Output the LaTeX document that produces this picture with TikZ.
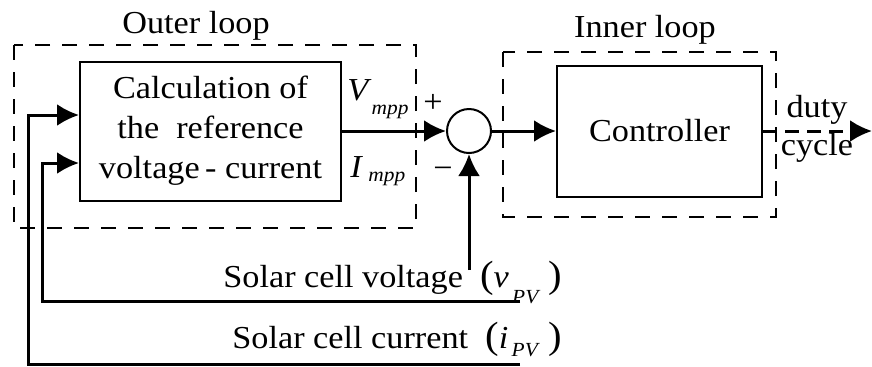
\documentclass[tikz,border=0pt]{standalone}
\usepackage{fontspec}
\setmainfont{Liberation Serif}[FakeStretch=1.07]
\usepackage{tikz}
\usetikzlibrary{arrows.meta,positioning,calc}
\newcommand{\lowsub}[2][4pt]{\raisebox{-#1}{\fontsize{10}{10}\selectfont\textit{#2}}}
\newcommand{\bigpar}[1]{{\fontsize{19}{19}\selectfont#1}}

\begin{document}
\begin{tikzpicture}[
      x=0.5pt, y=-0.5pt,
      blk/.style={draw, line width=1pt, inner sep=0pt, align=center,
                 font=\fontsize{16}{20}\selectfont},
      loopbox/.style={line width=1pt, dash pattern=on 7.5pt off 6pt},
      lbl/.style={font=\fontsize{16}{20}\selectfont, inner sep=0pt},
      arr/.style={-{Latex[length=11pt,width=11pt]}, line width=1.5pt}]
    \useasboundingbox (0,0) rectangle (872,366);
    % loop frames
    \draw[loopbox] (14,45) rectangle (416,228);
    \draw[loopbox] (503,52) rectangle (776,217);
    \node[lbl, anchor=base] (outer) at (196,33) {Outer loop};
    \node[lbl, anchor=base] (inner) at (645,37) {Inner loop};
    % blocks
    \node[blk, minimum width=130.5pt, minimum height=69.5pt] (calc) at (210.5,131)
      {Calculation of\\the\ \ reference\\voltage\,-\ current};
    \node[draw, circle, line width=1pt, minimum size=22pt, inner sep=0pt] (sum) at (469,131) {};
    \node[blk, minimum width=102.5pt, minimum height=65.5pt] (ctrl) at (659.5,131) {Controller};
    % signals
    \coordinate (vpv) at (520,301);
    \coordinate (ipv) at (520,364);
    \coordinate (vin) at (42,163);
    \coordinate (iin) at (28,115);
    \coordinate (vneg) at (469,270);
    \coordinate (out) at (872,131);
    \draw[arr] (calc.east) -- (sum.west);
    \draw[arr] (sum.east) -- (ctrl.west);
    \draw[arr] (vpv) -| (vin) -- (vin -| calc.west);
    \draw[arr] (ipv) -| (iin) -- (iin -| calc.west);
    \draw[arr] (vneg) -- (sum.south);
    \draw[arr, dash pattern=on 7pt off 4pt] (ctrl.east) -- (out);
    % labels
    \node[lbl, anchor=base west] (vmpp) at (347,100) {\textit{V}\lowsub[7pt]{mpp}};
    \node[lbl, anchor=base west] (impp) at (350,177) {\textit{I}\,\lowsub[2pt]{mpp}};
    \node[lbl] (plus) at (433,103) {+};
    \node[lbl] (minus) at (443,173) {−};
    \node[lbl, anchor=base] (dutyl) at (817,117) {duty};
    \node[lbl, anchor=base] (cyclel) at (817,155) {cycle};
    \node[lbl, anchor=base west] (vlbl) at (223,287)
      {Solar cell voltage\ \ \bigpar{(}\textit{v}\lowsub[8pt]{\,PV}\ \bigpar{)}};
    \node[lbl, anchor=base west] (ilbl) at (232,348)
      {Solar cell current\ \ \bigpar{(}\textit{i}\lowsub[4pt]{\,PV}\ \bigpar{)}};
  \end{tikzpicture}
\end{document}
